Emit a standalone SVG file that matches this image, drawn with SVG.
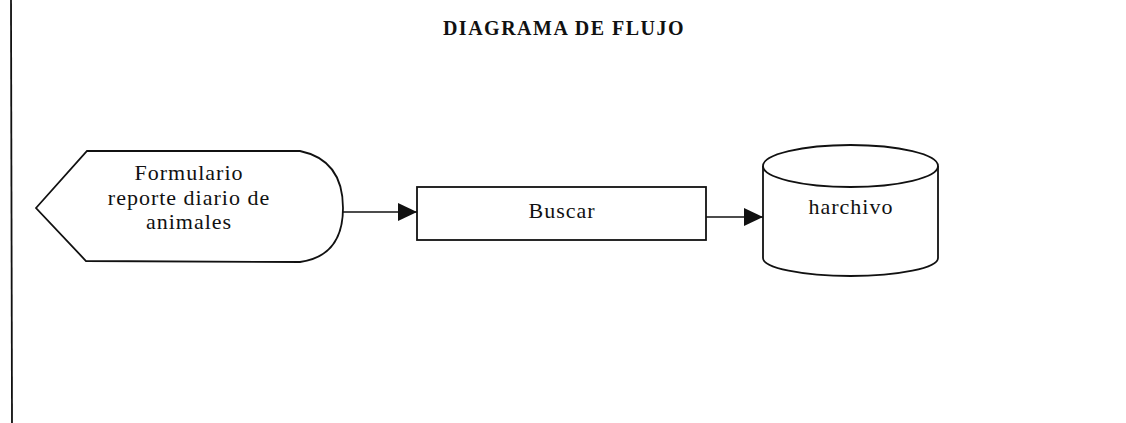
<svg xmlns="http://www.w3.org/2000/svg" width="1126" height="423" viewBox="0 0 1126 423">
<defs>
<style>
.shape{fill:#fff;stroke:#111;stroke-width:1.8}
.conn{fill:none;stroke:#111;stroke-width:1.6}
.lbl{font-family:"Liberation Serif","Times New Roman",serif;font-size:22px;fill:#111;text-anchor:middle;letter-spacing:1px}
.title{font-family:"Liberation Serif","Times New Roman",serif;font-size:20px;font-weight:bold;fill:#111;text-anchor:middle;letter-spacing:1.5px}
</style>
<marker id="arr" markerWidth="20" markerHeight="18" refX="19" refY="9" orient="auto" markerUnits="userSpaceOnUse">
<path d="M0,0 L19,9 L0,18 Z" fill="#111"/>
</marker>
</defs>
<rect width="1126" height="423" fill="#fff"/>
<line x1="11" y1="0" x2="12" y2="423" stroke="#111" stroke-width="1.8"/>
<text class="title" x="564" y="35">DIAGRAMA DE FLUJO</text>
<g id="formulario">
<path class="shape" d="M36,208 L87,151 L300,151 Q343,160 343,208 Q343,256 300,262 L86,261 Z"/>
<text class="lbl" x="189" y="180">Formulario</text>
<text class="lbl" x="189" y="205">reporte diario de</text>
<text class="lbl" x="189" y="229">animales</text>
</g>
<g id="buscar">
<rect class="shape" x="417" y="187" width="289" height="53"/>
<text class="lbl" x="562" y="218">Buscar</text>
</g>
<g id="harchivo">
<path class="shape" d="M763,166 L763,258 A87.5,18 0 0 0 938,258 L938,166"/>
<ellipse class="shape" cx="850.5" cy="166" rx="87.5" ry="21"/>
<text class="lbl" x="851" y="214">harchivo</text>
</g>
<g id="connectors">
<line class="conn" x1="343" y1="212" x2="417" y2="212" marker-end="url(#arr)"/>
<line class="conn" x1="706" y1="217" x2="763" y2="217" marker-end="url(#arr)"/>
</g>
</svg>
